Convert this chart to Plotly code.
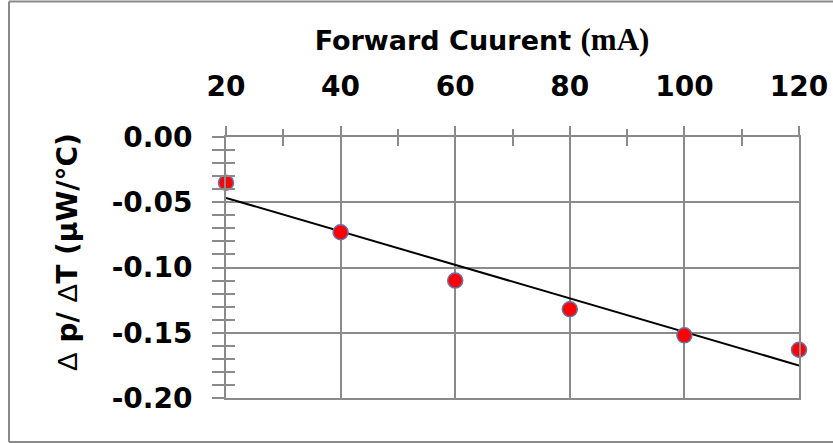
import numpy as np
import plotly.graph_objects as go

# ---- data ----
current_mA = [20, 40, 60, 80, 100, 120]
dp_dT = [-0.035, -0.073, -0.110, -0.132, -0.152, -0.163]
x_ticks = [20, 40, 60, 80, 100, 120]
y_ticks = [0.00, -0.05, -0.10, -0.15, -0.20]
y_tick_labels = ["0.00", "-0.05", "-0.10", "-0.15", "-0.20"]

# linear trendline (least squares)
slope, intercept = np.polyfit(current_mA, dp_dT, 1)
trend_x = [min(current_mA), max(current_mA)]
trend_y = [slope * v + intercept for v in trend_x]

W, H = 833, 443
L, R, T, B = 226, 34, 137, 45
pw, ph = W - L - R, H - T - B

GRID = "#8a8a8a"
tickfont = dict(family="DejaVu Sans", size=28, color="black", weight="bold")

fig = go.Figure()
fig.add_trace(go.Scatter(x=trend_x, y=trend_y, mode="lines",
                         line=dict(color="black", width=2), showlegend=False,
                         hoverinfo="skip", cliponaxis=False))
fig.add_trace(go.Scatter(x=current_mA, y=dp_dT, mode="markers", cliponaxis=False,
                         marker=dict(color="#ff0000", size=15,
                                     line=dict(color="#6a70a8", width=1.5)),
                         showlegend=False))
# invisible trace on overlay axes for inner tick marks
fig.add_trace(go.Scatter(x=[current_mA[0]], y=[dp_dT[0]], xaxis="x2", yaxis="y2",
                         mode="markers", marker=dict(opacity=0), showlegend=False,
                         hoverinfo="skip"))

fig.update_layout(
    width=W, height=H,
    margin=dict(l=L, r=R, t=T, b=B, pad=0, autoexpand=False),
    paper_bgcolor="white", plot_bgcolor="white",
    xaxis=dict(side="top", range=[20, 120], tickvals=x_ticks,
               ticktext=[str(v) for v in x_ticks], automargin=False,
               showgrid=True, gridcolor=GRID, gridwidth=2,
               showline=True, linecolor=GRID, linewidth=2, mirror=True,
               ticks="outside", ticklen=9, tickwidth=2, tickcolor=GRID,
               minor=dict(dtick=10, ticks="outside", ticklen=6, tickwidth=2,
                          tickcolor=GRID, showgrid=False),
               tickfont=tickfont, ticklabelstandoff=19, zeroline=False,
               fixedrange=True),
    yaxis=dict(range=[-0.20, 0.0], tickvals=y_ticks, ticktext=y_tick_labels,
               automargin=False,
               showgrid=True, gridcolor=GRID, gridwidth=2,
               showline=True, linecolor=GRID, linewidth=2, mirror=True,
               ticks="outside", ticklen=12, tickwidth=2, tickcolor=GRID,
               minor=dict(dtick=0.01, ticks="outside", ticklen=12, tickwidth=2,
                          tickcolor=GRID, showgrid=False),
               tickfont=tickfont, ticklabelstandoff=14, zeroline=False,
               fixedrange=True),
    xaxis2=dict(overlaying="x", matches="x", side="top", showticklabels=False,
                showgrid=False, ticks="inside", ticklen=9, tickwidth=2,
                tickcolor=GRID, tickvals=x_ticks, automargin=False,
                minor=dict(dtick=10, ticks="inside", ticklen=9, tickwidth=2,
                           tickcolor=GRID, showgrid=False),
                zeroline=False, showline=False),
    yaxis2=dict(overlaying="y", matches="y", side="left", showticklabels=False,
                showgrid=False, ticks="inside", ticklen=9, tickwidth=2,
                tickcolor=GRID, tickvals=y_ticks, automargin=False,
                minor=dict(dtick=0.01, ticks="inside", ticklen=9, tickwidth=2,
                           tickcolor=GRID, showgrid=False),
                zeroline=False, showline=False),
    title=dict(text="<b>Forward Cuurent <span style='font-family:Liberation Serif;font-size:31px'><b>(mA)</b></span></b>",
               font=dict(family="DejaVu Sans", size=27, color="black"),
               xref="container", yref="container", x=482 / W, y=1 - 41 / H,
               xanchor="center", yanchor="middle"),
    showlegend=False,
)

fig.add_annotation(
    text="<span style='font-family:Liberation Sans;font-weight:normal'>Δ</span><b> p/ </b>"
         "<span style='font-family:Liberation Sans;font-weight:normal'>Δ</span><b>T (μW/°C)</b>",
    textangle=-90, xref="paper", yref="paper",
    x=(67 - L) / pw, y=(H - B - 252) / ph, xanchor="center", yanchor="middle",
    showarrow=False, font=dict(family="DejaVu Sans", size=28, color="black"))

# outer chart border (open on the right, as in the reference)
def px(xp):
    return (xp - L) / pw

def py(yp):
    return (H - B - yp) / ph

border = dict(color="#8a8a8a", width=2)
fig.add_shape(type="line", xref="paper", yref="paper",
              x0=px(9), y0=py(1.5), x1=px(W), y1=py(1.5), line=border)
fig.add_shape(type="line", xref="paper", yref="paper",
              x0=px(9), y0=py(1.5), x1=px(9), y1=py(442), line=border)
fig.add_shape(type="line", xref="paper", yref="paper",
              x0=px(9), y0=py(442), x1=px(W), y1=py(442), line=border)

fig.write_html("out.html", config={"displayModeBar": False},
               post_script="document.body.style.margin='0';document.body.style.overflow='hidden';")
